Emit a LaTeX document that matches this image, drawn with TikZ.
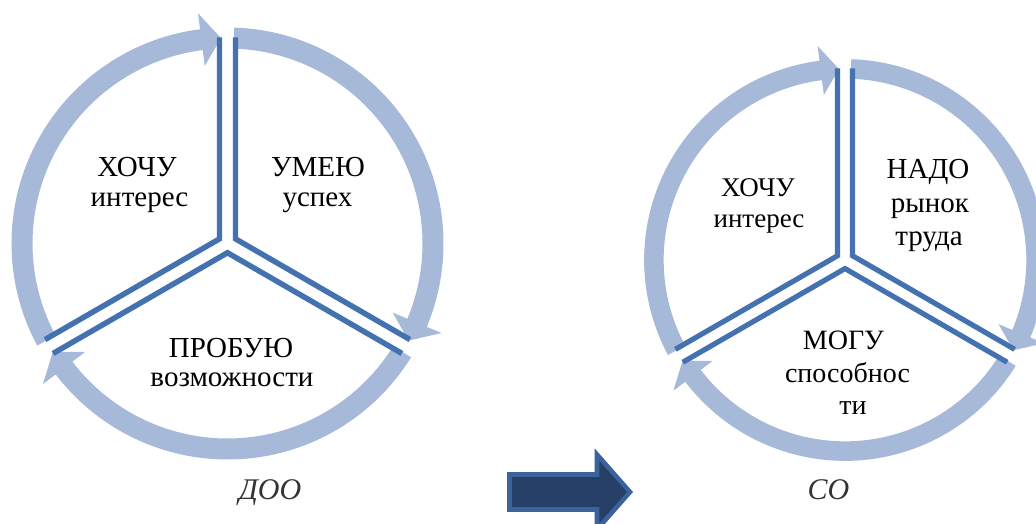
\documentclass[tikz,border=0pt]{standalone}
\usepackage{fontspec}
\setmainfont{Liberation Serif}
\usetikzlibrary{calc}
\definecolor{ringblue}{HTML}{A7B9D8}
\definecolor{lineblue}{HTML}{4472B0}
\definecolor{arrowfill}{HTML}{253F67}
\definecolor{arrowedge}{HTML}{3B629B}
\definecolor{captiongray}{HTML}{333333}
% ring arrow: start angle, head-back angle, tip angle
\newcommand{\ringarrow}[3]{%
  \fill[ringblue] (#1:216) arc[start angle=#1, end angle=#2, radius=216]
    -- (#2:232) -- (#3:205.5) -- (#2:179) -- (#2:195)
    arc[start angle=#2, end angle=#1, radius=195] -- cycle;}
% wedge edges: first ray angle (wedge runs clockwise 120 degrees)
\newcommand{\wedgeedge}[2]{%
  \draw[divider, line width=#2] ($(#1:206)+(#1-90:8)$) -- (#1-60:9.24) -- ($(#1-120:206)+(#1-30:8)$);}
\tikzset{
  divider/.style={draw=lineblue, line join=miter},
  lbl/.style={inner sep=0pt, anchor=base, text=black},
  capt/.style={inner sep=0pt, anchor=base, text=captiongray, font=\fontsize{22.5}{26}\selectfont\itshape},
  bigarrow/.style={fill=arrowfill, draw=arrowedge, line width=3.4pt, line join=miter}
}
\begin{document}
\begin{tikzpicture}[x=0.75pt, y=0.75pt]
\useasboundingbox (0,0) rectangle (1036,524);
\clip (0,0) rectangle (1036,524);
\fill[white] (0,0) rectangle (1036,524);

% ---------- left wheel ----------
\begin{scope}[shift={(227.5,280.5)}]
  \ringarrow{208.2}{97.3}{91.8}
  \ringarrow{88.2}{-22.7}{-28.2}
  \ringarrow{-31.8}{-142.7}{-148.2}
  \wedgeedge{90}{4.1pt}
  \wedgeedge{-30}{4.1pt}
  \wedgeedge{210}{4.1pt}
\end{scope}

% ---------- right wheel ----------
\begin{scope}[shift={(845,264)}, scale=0.93]
  \ringarrow{208.2}{97.3}{91.8}
  \ringarrow{88.2}{-22.7}{-28.2}
  \ringarrow{-31.8}{-142.7}{-148.2}
  \wedgeedge{90}{3.9pt}
  \wedgeedge{-30}{3.9pt}
  \wedgeedge{210}{3.9pt}
\end{scope}

% ---------- labels left ----------
\begin{scope}[every node/.style={lbl, font=\fontsize{21.75}{26}\selectfont}]
  \node (lwant) at (137,347) {ХОЧУ};
  \node (lwantb) at (139.5,317) {интерес};
  \node (lcan) at (318,347) {УМЕЮ};
  \node (lcanb) at (317.5,317) {успех};
  \node (ltry) at (231,166) {ПРОБУЮ};
  \node (ltryb) at (232,137) {возможности};
\end{scope}
\node[capt] (cdoo) at (270,24) {ДОО};

% ---------- labels right ----------
\begin{scope}[every node/.style={lbl, font=\fontsize{20.25}{24}\selectfont}]
  \node (rwant) at (758,327) {ХОЧУ};
  \node (rwantb) at (759,296) {интерес};
\end{scope}
\begin{scope}[every node/.style={lbl, font=\fontsize{21.75}{26}\selectfont}]
  \node (rneed) at (928,345) {НАДО};
  \node (rneedb) at (930,311) {рынок};
  \node (rneedc) at (929,278) {труда};
\end{scope}
\begin{scope}[every node/.style={lbl, font=\fontsize{21}{25}\selectfont}]
  \node (rable) at (843.5,174) {МОГУ};
  \node (rableb) at (847.5,141) {способнос};
  \node (rablec) at (853,109) {ти};
\end{scope}
\node[capt] (cso) at (828.5,24) {СО};

% ---------- big arrow ----------
\draw[bigarrow] (509.5,14.5) -- (509.5,49.5) -- (597,49.5) -- (597,69.5)
  -- (630,32) -- (597,-5.5) -- (597,14.5) -- cycle;
\end{tikzpicture}
\end{document}
